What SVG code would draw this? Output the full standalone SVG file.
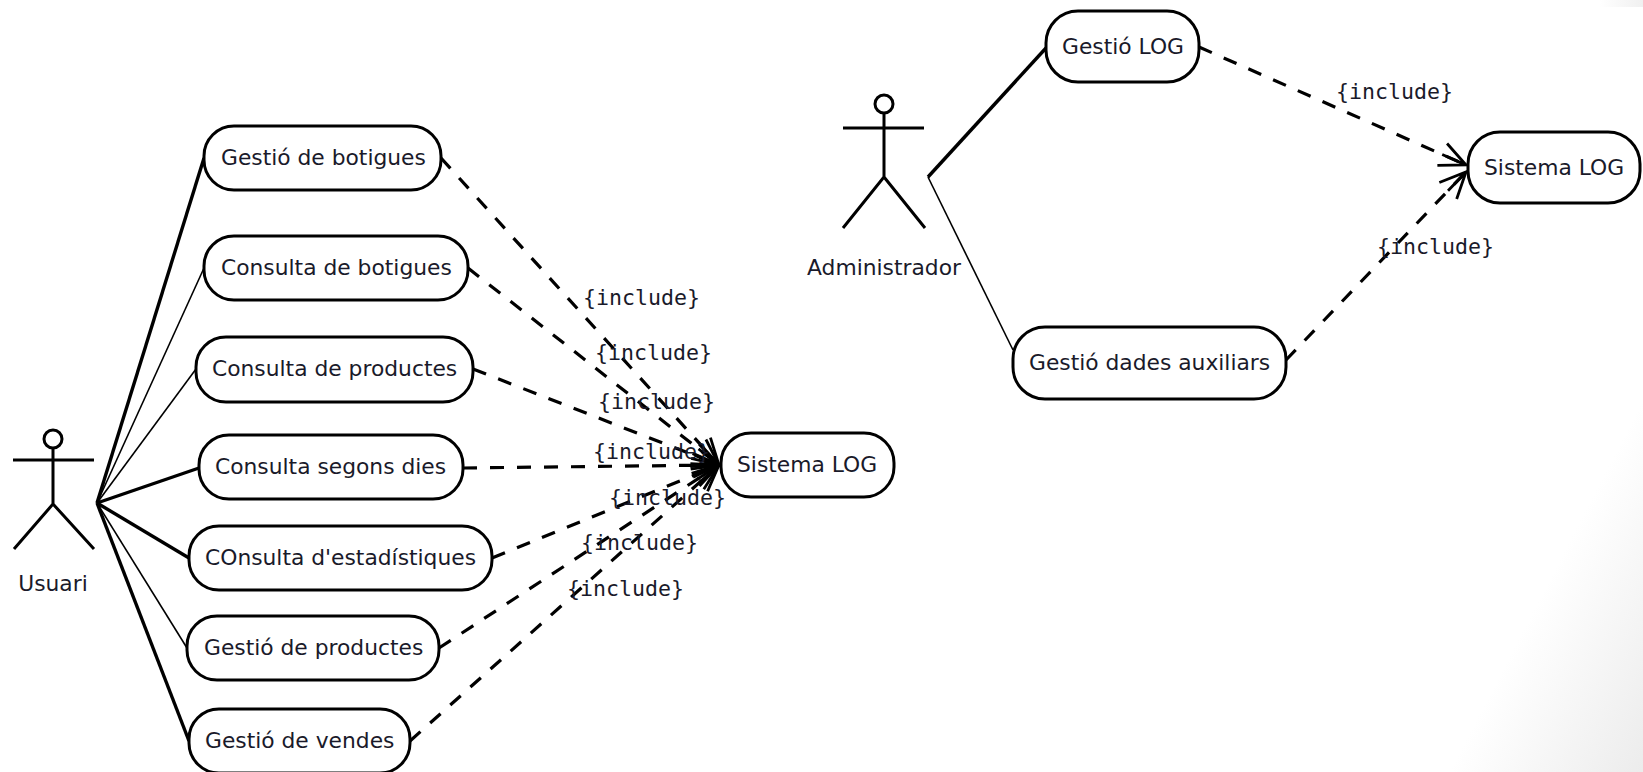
<svg xmlns="http://www.w3.org/2000/svg" width="1643" height="772" viewBox="0 0 1643 772">
<defs>
<linearGradient id="bg" gradientUnits="userSpaceOnUse" x1="1546" y1="586" x2="1698" y2="665"><stop offset="0" stop-color="#fff"/><stop offset="1" stop-color="#ececec"/></linearGradient>
<linearGradient id="bgtop" x1="0" y1="0" x2="1" y2="0"><stop offset="0" stop-color="#fff"/><stop offset="1" stop-color="#f0f0f0"/></linearGradient>
<marker id="open" viewBox="-28 -14 30 28" refX="0" refY="0" markerUnits="userSpaceOnUse" markerWidth="30" markerHeight="28" orient="auto" overflow="visible"><path d="M-26 -12L0 0L-26 12M-26 0L0 0" fill="none" stroke="#000" stroke-width="2.8"/></marker>
<style>
text{font-family:"DejaVu Sans",sans-serif;font-size:21.8px;fill:#1a1a2a}
.inc{font-family:"DejaVu Sans Mono",monospace;font-size:21.6px}
.uc{fill:#fff;stroke:#000;stroke-width:3}
.a{fill:none;stroke:#000;stroke-width:3}
.t{stroke:#000;stroke-width:3.4;fill:none}
.n{stroke:#000;stroke-width:1.6;fill:none}
.d{stroke:#000;stroke-width:3.2;fill:none;stroke-dasharray:14 13;marker-end:url(#open)}
</style>
</defs>
<rect width="1643" height="772" fill="#fff"/>
<rect width="1643" height="772" fill="url(#bg)"/>
<rect x="1600" width="43" height="7" fill="url(#bgtop)"/>
<g id="connectors">
<path class="t" d="M97 503L204 158"/><path class="n" d="M97 503L204 268"/><path class="n" d="M97 503L196 369"/><path class="t" d="M97 503L199 468"/><path class="t" d="M97 503L189 558"/><path class="n" d="M97 503L187 648"/><path class="t" d="M97 503L189 741"/>
<path class="t" d="M928 177L1046 48"/><path class="n" d="M928 177L1013 350"/>
<path class="d" d="M441 158L719 465"/><path class="d" d="M468 268L719 465"/><path class="d" d="M473 369L719 465"/><path class="d" d="M463 468L719 465"/><path class="d" d="M492 558L719 465"/><path class="d" d="M439 648L719 465"/><path class="d" d="M410 741L719 465"/>
<path class="d" d="M1199 47L1466 165"/><path class="d" d="M1286 360L1466 172"/>
</g>
<g id="usuari"><circle class="a" cx="53" cy="439" r="9"/><path class="a" d="M13 460H94M53 448V504L14 549M53 504L94 549"/><text x="53" y="591" text-anchor="middle">Usuari</text></g>
<g id="administrador"><circle class="a" cx="884" cy="104" r="9"/><path class="a" d="M843 128H924M884 113V177L843 228M884 177L925 228"/><text x="884" y="275" text-anchor="middle">Administrador</text></g>
<g id="gestio-botigues"><rect class="uc" x="204" y="126" width="237" height="64" rx="30"/><text x="221" y="165">Gestió de botigues</text></g>
<g id="consulta-botigues"><rect class="uc" x="204" y="236" width="264" height="64" rx="30"/><text x="221" y="275">Consulta de botigues</text></g>
<g id="consulta-productes"><rect class="uc" x="196" y="337" width="277" height="65" rx="30"/><text x="212" y="376">Consulta de productes</text></g>
<g id="consulta-dies"><rect class="uc" x="199" y="435" width="264" height="64" rx="30"/><text x="215" y="474">Consulta segons dies</text></g>
<g id="consulta-estadistiques"><rect class="uc" x="189" y="526" width="303" height="64" rx="30"/><text x="205" y="565">COnsulta d'estadístiques</text></g>
<g id="gestio-productes"><rect class="uc" x="187" y="616" width="252" height="64" rx="30"/><text x="204" y="655">Gestió de productes</text></g>
<g id="gestio-vendes"><rect class="uc" x="189" y="709" width="221" height="64" rx="30"/><text x="205" y="748">Gestió de vendes</text></g>
<g id="sistema-log-1"><rect class="uc" x="721" y="433" width="173" height="64" rx="30"/><text x="737" y="472">Sistema LOG</text></g>
<g id="gestio-log"><rect class="uc" x="1046" y="11" width="153" height="71" rx="32"/><text x="1062" y="54">Gestió LOG</text></g>
<g id="sistema-log-2"><rect class="uc" x="1468" y="132" width="172" height="71" rx="32"/><text x="1484" y="175">Sistema LOG</text></g>
<g id="gestio-dades"><rect class="uc" x="1013" y="327" width="273" height="72" rx="32"/><text x="1029" y="370">Gestió dades auxiliars</text></g>
<g id="labels"><text class="inc" x="583" y="305">{include}</text><text class="inc" x="595" y="360">{include}</text><text class="inc" x="598" y="409">{include}</text><text class="inc" x="593" y="459">{include}</text><text class="inc" x="609" y="505">{include}</text><text class="inc" x="581" y="550">{include}</text><text class="inc" x="567" y="596">{include}</text><text class="inc" x="1336" y="99">{include}</text><text class="inc" x="1377" y="254">{include}</text></g>
</svg>
